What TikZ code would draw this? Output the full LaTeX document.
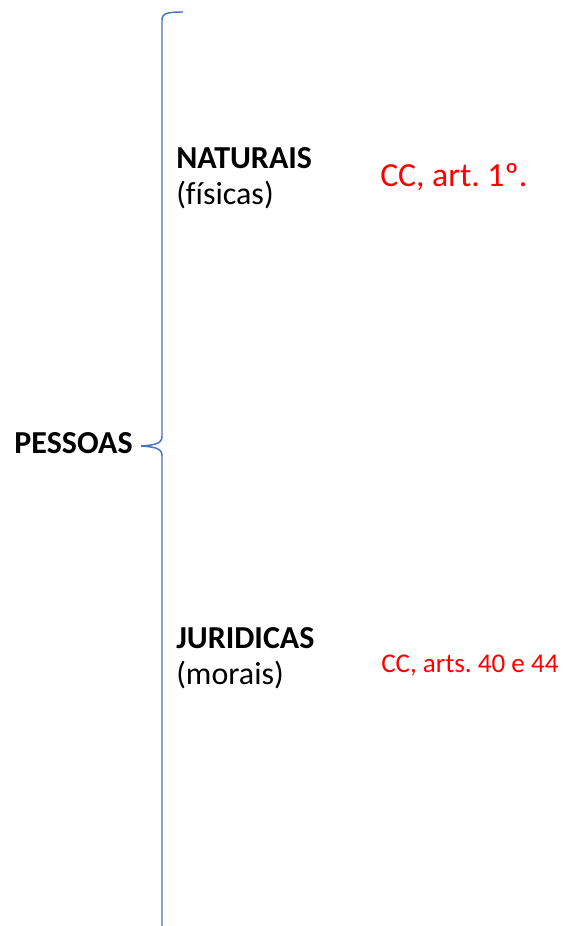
\documentclass[tikz,border=0pt]{standalone}
\usepackage{fontspec}
\setmainfont{Carlito}[Ligatures=NoCommon]
\frenchspacing
\definecolor{braceblue}{RGB}{68,114,196}
\tikzset{
  lbl/.style={inner sep=0pt,align=left,font=\fontsize{24}{29}\selectfont},
  ref/.style={inner sep=0pt,text=red,font=\fontsize{25.3}{30}\selectfont},
  refsmall/.style={inner sep=0pt,text=red,font=\fontsize{20.3}{24}\selectfont}
}
\begin{document}
\begin{tikzpicture}[x=0.75pt,y=0.75pt,yscale=-1,xscale=1]
\useasboundingbox (0,0) rectangle (568,926);

%Shape: Brace
\draw [color=braceblue, line width=1.1pt]  (183,12) .. controls (168,12) and (162,13) .. (162,20) -- (162,436) .. controls (162,443) and (157,445) .. (141,446) .. controls (157,447) and (162,449) .. (162,456) -- (162,930) ;

% Text Node
\node [lbl, anchor=base east] (pessoas) at (133,453) {\textbf{PESSOAS}};
% Text Node
\node [lbl, anchor=base west] (naturais) at (176,168) {\textbf{NATURAIS}};
\node [lbl, anchor=base west] (fisicas) at (176,204) {(físicas)};
% Text Node
\node [ref, anchor=base west] (ccnat) at (380,186) {CC, art. 1º.};
% Text Node
\node [lbl, anchor=base west] (juridicas) at (176,648) {\textbf{JURIDICAS}};
\node [lbl, anchor=base west] (morais) at (176,684) {(morais)};
% Text Node
\node [refsmall, anchor=base west] (ccjur) at (381,672) {CC, arts. 40 e 44};
\end{tikzpicture}
\end{document}
